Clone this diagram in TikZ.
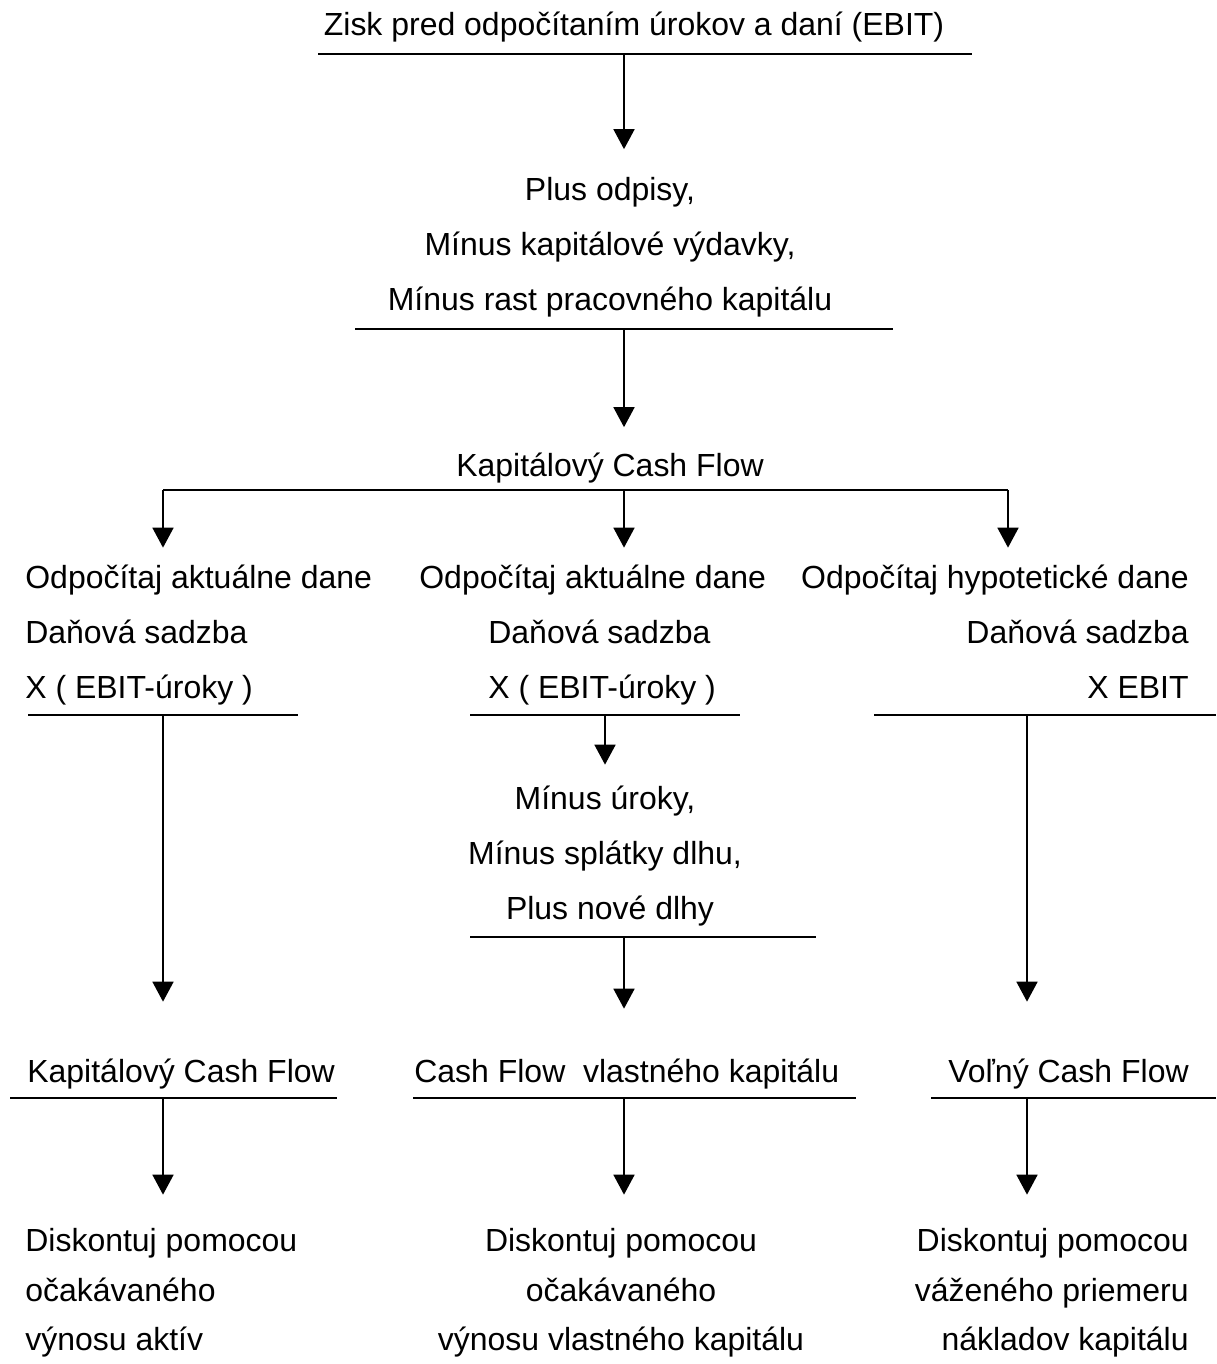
\documentclass[tikz,border=0pt]{standalone}
\usepackage{fontspec}
\setmainfont{Liberation Sans}
\usetikzlibrary{arrows.meta}

\begin{document}
\begin{tikzpicture}[
  x=0.02cm, y=-0.02cm,
  txt/.style={inner sep=0pt, text height=0.45cm, text depth=0.13cm, font=\fontsize{18.2}{22}\selectfont},
  rule/.style={line width=1.5pt},
  arr/.style={line width=1pt, -{Triangle[length=0.4cm, width=0.42cm]}}
]
\useasboundingbox (0,0) rectangle (1216,1364);

\node[txt, anchor=base] (ebit) at (634,36) {Zisk pred odpočítaním úrokov a daní (EBIT)};
\draw[rule] (318,54) -- (972,54);
\coordinate (r0) at (624,54);

\node[txt, anchor=base] (plus) at (610,201) {Plus odpisy,};
\node[txt, anchor=base] (capex) at (610,256) {Mínus kapitálové výdavky,};
\node[txt, anchor=base] (wc) at (610,311) {Mínus rast pracovného kapitálu};
\draw[rule] (355,329) -- (893,329);
\coordinate (r1) at (624,329);

\node[txt, anchor=base] (kcf) at (610,477) {Kapitálový Cash Flow};
\draw[rule] (163,490) -- (1008,490);
\coordinate (bl) at (163,490);
\coordinate (bm) at (624,490);
\coordinate (br) at (1008,490);

\node[txt, anchor=base west] (l1) at (25,588) {Odpočítaj aktuálne dane};
\node[txt, anchor=base west] (l2) at (25,643) {Daňová sadzba};
\node[txt, anchor=base west] (l3) at (25,698) {X ( EBIT-úroky )};
\draw[rule] (28,715) -- (298,715);
\coordinate (rl) at (163,715);

\node[txt, anchor=base west] (m1) at (419,588) {Odpočítaj aktuálne dane};
\node[txt, anchor=base west] (m2) at (488,643) {Daňová sadzba};
\node[txt, anchor=base west] (m3) at (488,698) {X ( EBIT-úroky )};
\draw[rule] (470,715) -- (740,715);
\coordinate (rm) at (605,715);

\node[txt, anchor=base east] (h1) at (1189,588) {Odpočítaj hypotetické dane};
\node[txt, anchor=base east] (h2) at (1189,643) {Daňová sadzba};
\node[txt, anchor=base east] (h3) at (1189,698) {X EBIT};
\draw[rule] (874,715) -- (1216,715);
\coordinate (rr) at (1027,715);

\node[txt, anchor=base] (iu) at (605,809) {Mínus úroky,};
\node[txt, anchor=base] (sd) at (605,864) {Mínus splátky dlhu,};
\node[txt, anchor=base] (nd) at (610,919) {Plus nové dlhy};
\draw[rule] (470,937) -- (816,937);
\coordinate (rd) at (624,937);

\node[txt, anchor=base west] (cfa) at (27,1082) {Kapitálový Cash Flow};
\node[txt, anchor=base west] (cfe) at (414,1082) {Cash Flow\ \ vlastného kapitálu};
\node[txt, anchor=base east] (fcf) at (1189,1082) {Voľný Cash Flow};
\draw[rule] (10,1098) -- (337,1098);
\draw[rule] (413,1098) -- (856,1098);
\draw[rule] (931,1098) -- (1216,1098);
\coordinate (ba) at (163,1098);
\coordinate (be) at (624,1098);
\coordinate (bf) at (1027,1098);

\node[txt, anchor=base west] (d1) at (25,1251) {Diskontuj pomocou};
\node[txt, anchor=base west] (d2) at (25,1301) {očakávaného};
\node[txt, anchor=base west] (d3) at (25,1350) {výnosu aktív};

\node[txt, anchor=base] (e1) at (621,1251) {Diskontuj pomocou};
\node[txt, anchor=base] (e2) at (621,1301) {očakávaného};
\node[txt, anchor=base] (e3) at (621,1350) {výnosu vlastného kapitálu};

\node[txt, anchor=base east] (w1) at (1189,1251) {Diskontuj pomocou};
\node[txt, anchor=base east] (w2) at (1189,1301) {váženého priemeru};
\node[txt, anchor=base east] (w3) at (1189,1350) {nákladov kapitálu};

\draw[arr, shorten >=0.58cm] (r0) -- (r0 |- plus.north);
\draw[arr, shorten >=0.54cm] (r1) -- (r1 |- kcf.north);
\draw[arr, shorten >=0.35cm] (bl) -- (bl |- l1.north);
\draw[arr, shorten >=0.35cm] (bm) -- (bm |- m1.north);
\draw[arr, shorten >=0.35cm] (br) -- (br |- h1.north);
\draw[arr, shorten >=0.43cm] (rm) -- (rm |- iu.north);
\draw[arr, shorten >=1.15cm] (rl) -- (rl |- cfa.north);
\draw[arr, shorten >=1.01cm] (rd) -- (rd |- cfe.north);
\draw[arr, shorten >=1.15cm] (rr) -- (rr |- fcf.north);
\draw[arr, shorten >=0.67cm] (ba) -- (ba |- d1.north);
\draw[arr, shorten >=0.67cm] (be) -- (be |- e1.north);
\draw[arr, shorten >=0.67cm] (bf) -- (bf |- w1.north);
\end{tikzpicture}
\end{document}
